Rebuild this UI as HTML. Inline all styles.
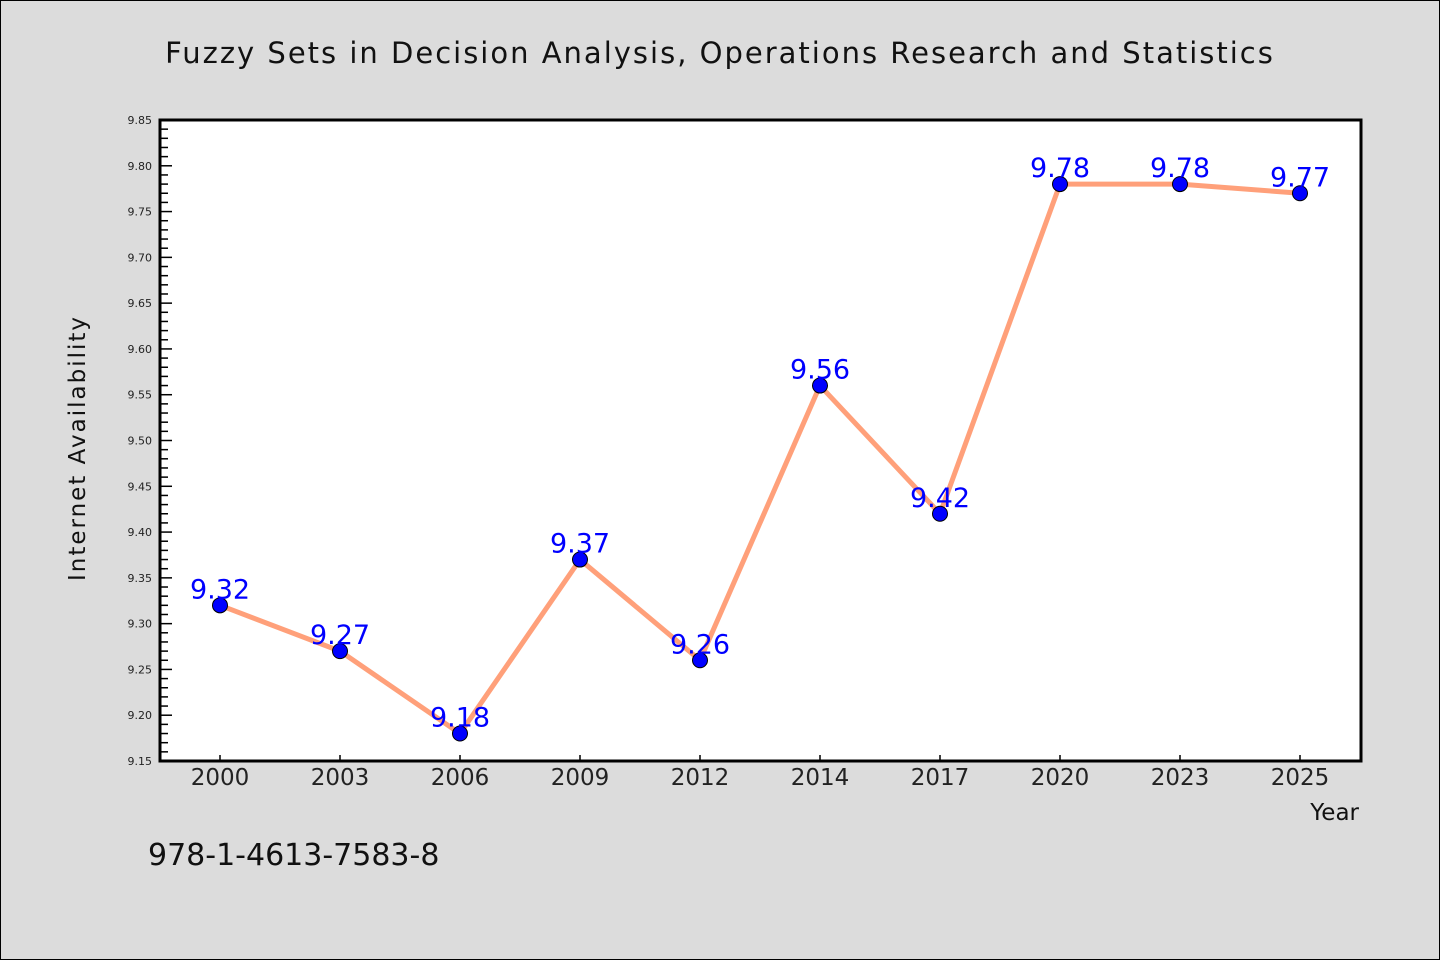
<!DOCTYPE html>
<html><head><meta charset="utf-8"><style>
html,body{margin:0;padding:0;background:#dcdcdc}
svg{display:block}
text{font-family:"DejaVu Sans","Liberation Sans",sans-serif}
</style></head><body>
<svg id="chart" width="1440" height="960" xmlns="http://www.w3.org/2000/svg">
<rect x="0.5" y="0.5" width="1439" height="959" fill="#dcdcdc" stroke="#000"/>
<text x="720" y="63" text-anchor="middle" font-size="29" letter-spacing="2" fill="#111" font-family="'Liberation Mono',monospace">Fuzzy Sets in Decision Analysis, Operations Research and Statistics</text>
<rect x="160" y="120" width="1201" height="641" fill="#fff"/>
<g id="yaxis"></g>
<g id="xaxis"></g>
<g id="series"></g>
<rect x="160" y="120" width="1201" height="641" fill="none" stroke="#000" stroke-width="3"/>
<text transform="translate(85,448) rotate(-90)" text-anchor="middle" font-size="23" letter-spacing="2" fill="#111" font-family="'Liberation Mono',monospace">Internet Availability</text>
<text x="1359" y="820" text-anchor="end" font-size="23" fill="#111" font-family="'Liberation Mono',monospace">Year</text>
<text x="148" y="865" font-size="30" fill="#111">978-1-4613-7583-8</text>
</svg>
<script>
const categories=["2000","2003","2006","2009","2012","2014","2017","2020","2023","2025"];
const values=[9.32,9.27,9.18,9.37,9.26,9.56,9.42,9.78,9.78,9.77];
const yTicks=[9.15,9.20,9.25,9.30,9.35,9.40,9.45,9.50,9.55,9.60,9.65,9.70,9.75,9.80,9.85];
const NS="http://www.w3.org/2000/svg";
const L=160,R=1361,T=120,B=761,yMin=9.15,yMax=9.85;
const y=v=>B-(v-yMin)/(yMax-yMin)*(B-T);
const x=i=>220+i*120;
function mk(tag,a,p){const e=document.createElementNS(NS,tag);for(const k in a)e.setAttribute(k,a[k]);p.appendChild(e);return e;}
const ya=document.getElementById('yaxis');
for(let k=0;k<=70;k++){const v=yMin+k*0.01;const maj=k%5===0;
 const t=mk('line',{x1:L,x2:L+(maj?12:8),y1:y(v),y2:y(v),stroke:'#000','stroke-width':1.5},ya);
 
 }
yTicks.forEach(v=>{const t=mk('text',{x:152,y:y(v)+4,'text-anchor':'end','font-size':11,fill:'#222'},ya);t.textContent=v.toFixed(2);
 
 });
const xa=document.getElementById('xaxis');
categories.forEach((c,i)=>{const l=mk('line',{x1:x(i),x2:x(i),y1:B,y2:B-6,stroke:'#000','stroke-width':1.5},xa);
 
 
 const t=mk('text',{x:x(i),y:785,'text-anchor':'middle','font-size':23,fill:'#222'},xa);t.textContent=c;
 
 });
const s=document.getElementById('series');
const ln=mk('polyline',{points:values.map((v,i)=>x(i)+','+y(v)).join(' '),fill:'none',stroke:'#ffa07a','stroke-width':5,'stroke-linejoin':'round'},s);


values.forEach((v,i)=>{const c=mk('circle',{cx:x(i),cy:y(v),r:7.5,fill:'#0000ff',stroke:'#000','stroke-width':1},s);
 
 
 const t=mk('text',{x:x(i),y:y(v)-7,'text-anchor':'middle','font-size':27,fill:'#0000ff'},s);t.textContent=v.toFixed(2);
 
 });
</script>
</body></html>
